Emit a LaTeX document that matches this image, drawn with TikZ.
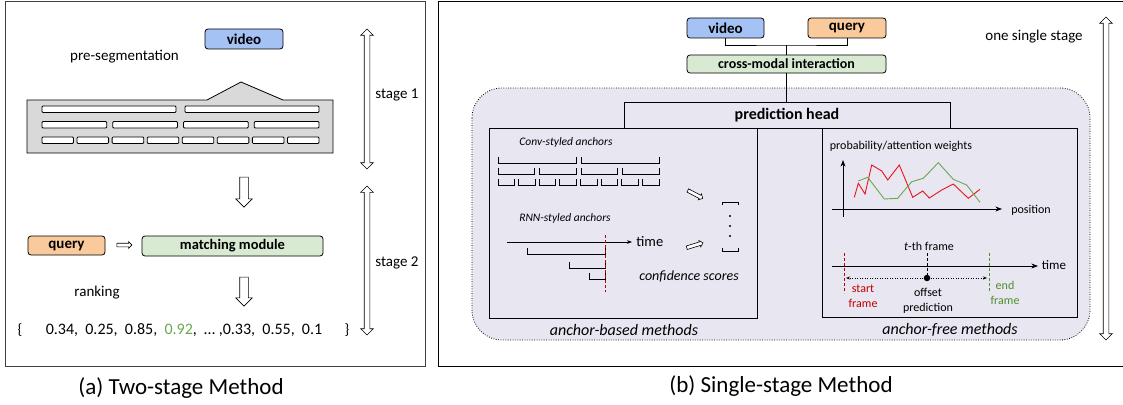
\documentclass[tikz,border=0pt]{standalone}
\usepackage{fontspec}
\setmainfont{Carlito}
\usetikzlibrary{shapes.arrows, arrows.meta}

\definecolor{vidblue}{HTML}{A4C2F4}
\definecolor{qryorange}{HTML}{F9CB9C}
\definecolor{modgreen}{HTML}{D9EAD3}
\definecolor{segrey}{HTML}{D9D9D9}
\definecolor{headlav}{HTML}{E8E6F0}
\definecolor{startred}{HTML}{C00000}
\definecolor{endgreen}{HTML}{4E8F2E}
\definecolor{scoregreen}{HTML}{6AA84F}
\definecolor{curvered}{HTML}{E8141B}

\begin{document}
\begin{tikzpicture}[x=1pt, y=-1pt, >=Stealth, line width=0.8pt,
    inbox/.style={draw, rounded corners=3pt, inner sep=0pt, font=\fontsize{15}{15}\selectfont\bfseries},
    lbl/.style={inner sep=0pt, font=\fontsize{15}{15}\selectfont},
    small/.style={inner sep=0pt, align=center, font=\fontsize{12}{15}\selectfont},
    hollow/.style={single arrow, draw, fill=white, line width=0.6pt, inner xsep=0pt, inner ysep=#1, single arrow head extend=#1},
    stagearrow/.style={double arrow, draw, fill=white, line width=0.6pt, inner xsep=0pt, inner ysep=2.5pt, double arrow head extend=3.5pt, rotate=90}]

\useasboundingbox (0,0) rectangle (1123,404);

% two frames
\draw[black!75] (5,1) rectangle (425,366);
\draw (1123,1) -- (438,1) -- (438,366) -- (1123,366);

% ---------- (a) two-stage ----------
\node[inbox, fill=vidblue, minimum width=78, minimum height=20] (vidA) at (244,39) {video};
\node[lbl] (preseg) at (124.5,57) {pre-segmentation};

\draw[fill=segrey] (27,100) -- (207,100) -- (241,82) -- (283,100) -- (333,100) -- (333,153) -- (27,153) -- cycle;
\foreach \n/\g/\y in {2/9/106, 4/6/121.5, 8/3.5/137}{
  \pgfmathsetmacro{\w}{(277-(\n-1)*\g)/\n}
  \foreach \i in {1,...,\n}
    \draw[fill=white, rounded corners=1pt] ({42+(\i-1)*(\w+\g)},\y) rectangle ++(\w,6.5);
}

\node[stagearrow, minimum height=140] (st1) at (367,99) {};
\node[lbl] (st1lbl) at (397,95) {stage 1};
\node[hollow=4pt, minimum height=30, rotate=-90] (down1) at (244,190) {};

\node[inbox, fill=qryorange, minimum width=77, minimum height=19] (qryA) at (66.5,245.5) {query};
\node[hollow=1.5pt, minimum height=15] (toMatch) at (123.5,245) {};
\node[inbox, fill=modgreen, minimum width=181, minimum height=20, font=\fontsize{14.5}{15}\selectfont\bfseries] (match) at (232.5,246) {matching module};

\node[lbl] (rank) at (97,293) {ranking};
\node[hollow=4pt, minimum height=29, rotate=-90] (down2) at (244,289.5) {};
\node[stagearrow, minimum height=149] (st2) at (367,260.5) {};
\node[lbl] (st2lbl) at (397,263) {stage 2};

\node[lbl] (lbrace) at (20,330) {\{};
\node[lbl, font=\fontsize{16}{16}\selectfont] (scores) at (184,330) {0.34,\ \ 0.25,\ \ 0.85,\ \ \textcolor{scoregreen}{0.92},\ \ \dots\ ,0.33,\ \ 0.55,\ \ 0.1};
\node[lbl] (rbrace) at (347,330) {\}};

\node[lbl, font=\fontsize{23}{23}\selectfont] (capA) at (181,388) {(a) Two-stage Method};

% ---------- (b) single-stage ----------
\node[inbox, fill=vidblue, minimum width=77, minimum height=20] (vidB) at (725.5,28) {video};
\node[inbox, fill=qryorange, minimum width=78, minimum height=20] (qryB) at (847,28) {query};
\node[inbox, fill=modgreen, minimum width=199, minimum height=18, font=\fontsize{14}{14}\selectfont\bfseries] (cross) at (786.5,64) {cross-modal interaction};
\coordinate (join) at (786.5,45);
\draw (vidB.south) |- (join) -| (qryB.south);
\draw (join) -- (cross.north);
\node[lbl] (single) at (1034,37) {one single stage};
\node[stagearrow, minimum height=323] (stB) at (1106,178.5) {};

\draw[fill=headlav, rounded corners=30pt, dash pattern=on 0.8pt off 1.6pt] (472,88) rectangle (1090,340);
\node[draw, minimum width=326, minimum height=26, inner sep=0pt, font=\fontsize{16}{16}\selectfont\bfseries] (head) at (787,115) {prediction head};
\draw (cross.south) -- (cross.south |- head.north);
\node[draw, minimum width=268, minimum height=190, inner sep=0pt] (abox) at (623,223) {};
\node[draw, minimum width=255, minimum height=189, inner sep=0pt] (fbox) at (949.5,222.5) {};
\node[lbl, font=\fontsize{16}{16}\selectfont\itshape] (abased) at (624,330) {anchor-based methods};
\node[lbl, font=\fontsize{16}{16}\selectfont\itshape] (afree) at (950,330) {anchor-free methods};

% anchor-based contents
\node[small, font=\fontsize{11.5}{12}\selectfont\itshape] (conv) at (566,142) {Conv-styled anchors};
\foreach \n/\g/\y in {2/5/157, 4/5/168, 8/4/179}{
  \pgfmathsetmacro{\w}{(161-(\n-1)*\g)/\n}
  \foreach \i in {1,...,\n}{
    \pgfmathsetmacro{\xa}{498+(\i-1)*(\w+\g)}
    \draw (\xa,\y) -- (\xa,\y+6) -- (\xa+\w,\y+6) -- (\xa+\w,\y);
  }
}
\node[small, font=\fontsize{11.5}{12}\selectfont\itshape] (rnn) at (565,218) {RNN-styled anchors};
\coordinate (t0) at (507,242);
\node[lbl, font=\fontsize{14.5}{15}\selectfont, anchor=west] (tlabA) at (636,242) {time};
\draw[-{Stealth[length=5pt]}] (t0) -- (632,242);
\foreach \s/\t in {527/248, 569/262, 589/273}
  \draw (\s,\t) -- (\s,\t+6) -- (605,\t+6) -- (605,\t);
\draw[startred, dash pattern=on 3pt off 2pt] (605,235) -- (605,292);

\node[hollow=1.5pt, minimum height=17, rotate=-28] (toScore1) at (694.5,194) {};
\node[hollow=1.5pt, minimum height=17, rotate=17] (toScore2) at (694,245.5) {};
\draw (722,205) -- (722,202) -- (738,202) -- (738,205);
\draw (722,248) -- (722,251) -- (738,251) -- (738,248);
\foreach \d in {216,226,236} \fill (730,\d) circle (1.1);
\node[lbl, font=\fontsize{14}{14}\selectfont\itshape] (conf) at (689,276) {confidence scores};

% anchor-free contents
\node[small] (prob) at (901,146) {probability/attention weights};
\draw[->] (843,217) -- (843,160);
\draw[->] (832,209) -- (1002,209);
\node[small] (pos) at (1031,210) {position};
\draw[curvered, line width=0.9pt] plot coordinates {(854.3,197.3) (858.3,183.3) (865,194) (871.7,165) (881.7,171) (887.7,180) (899.3,165) (912.7,197.3) (922.7,191) (929.3,198) (941.7,190) (953.3,184) (968.3,198.3) (980,189.3)};
\draw[scoregreen, line width=0.9pt] plot coordinates {(858.3,181) (867.7,177.3) (884.3,199) (897.7,198.3) (911.7,181.7) (923.3,178.3) (938.3,162.7) (953.3,179.3) (966.7,185) (980,202.3)};

\node[small] (tth) at (929,246) {\textit{t}-th frame};
\draw[->] (832,266) -- (1038,266);
\node[small, font=\fontsize{13}{13}\selectfont] (tlabB) at (1054,265) {time};
\draw[startred, dash pattern=on 3pt off 2pt] (844,253) -- (844,293);
\draw[dash pattern=on 3pt off 2pt] (927,253) -- (927,278);
\draw[endgreen, dash pattern=on 3pt off 2pt] (989,253) -- (989,293);
\node[circle, fill, inner sep=0pt, minimum size=6.5] (mid) at (927,278) {};
\draw[dash pattern=on 1pt off 1.5pt, -{Stealth[length=4pt]}] (mid) -- (846,278);
\draw[dash pattern=on 1pt off 1.5pt, -{Stealth[length=4pt]}] (mid) -- (987,278);
\node[small, text=startred] (startf) at (863,296.5) {start\\frame};
\node[small] (offset) at (928,300.5) {offset\\prediction};
\node[small, text=endgreen] (endf) at (1005,292.5) {end\\frame};

\node[lbl, font=\fontsize{23}{23}\selectfont] (capB) at (781,386) {(b) Single-stage Method};

\end{tikzpicture}
\end{document}
